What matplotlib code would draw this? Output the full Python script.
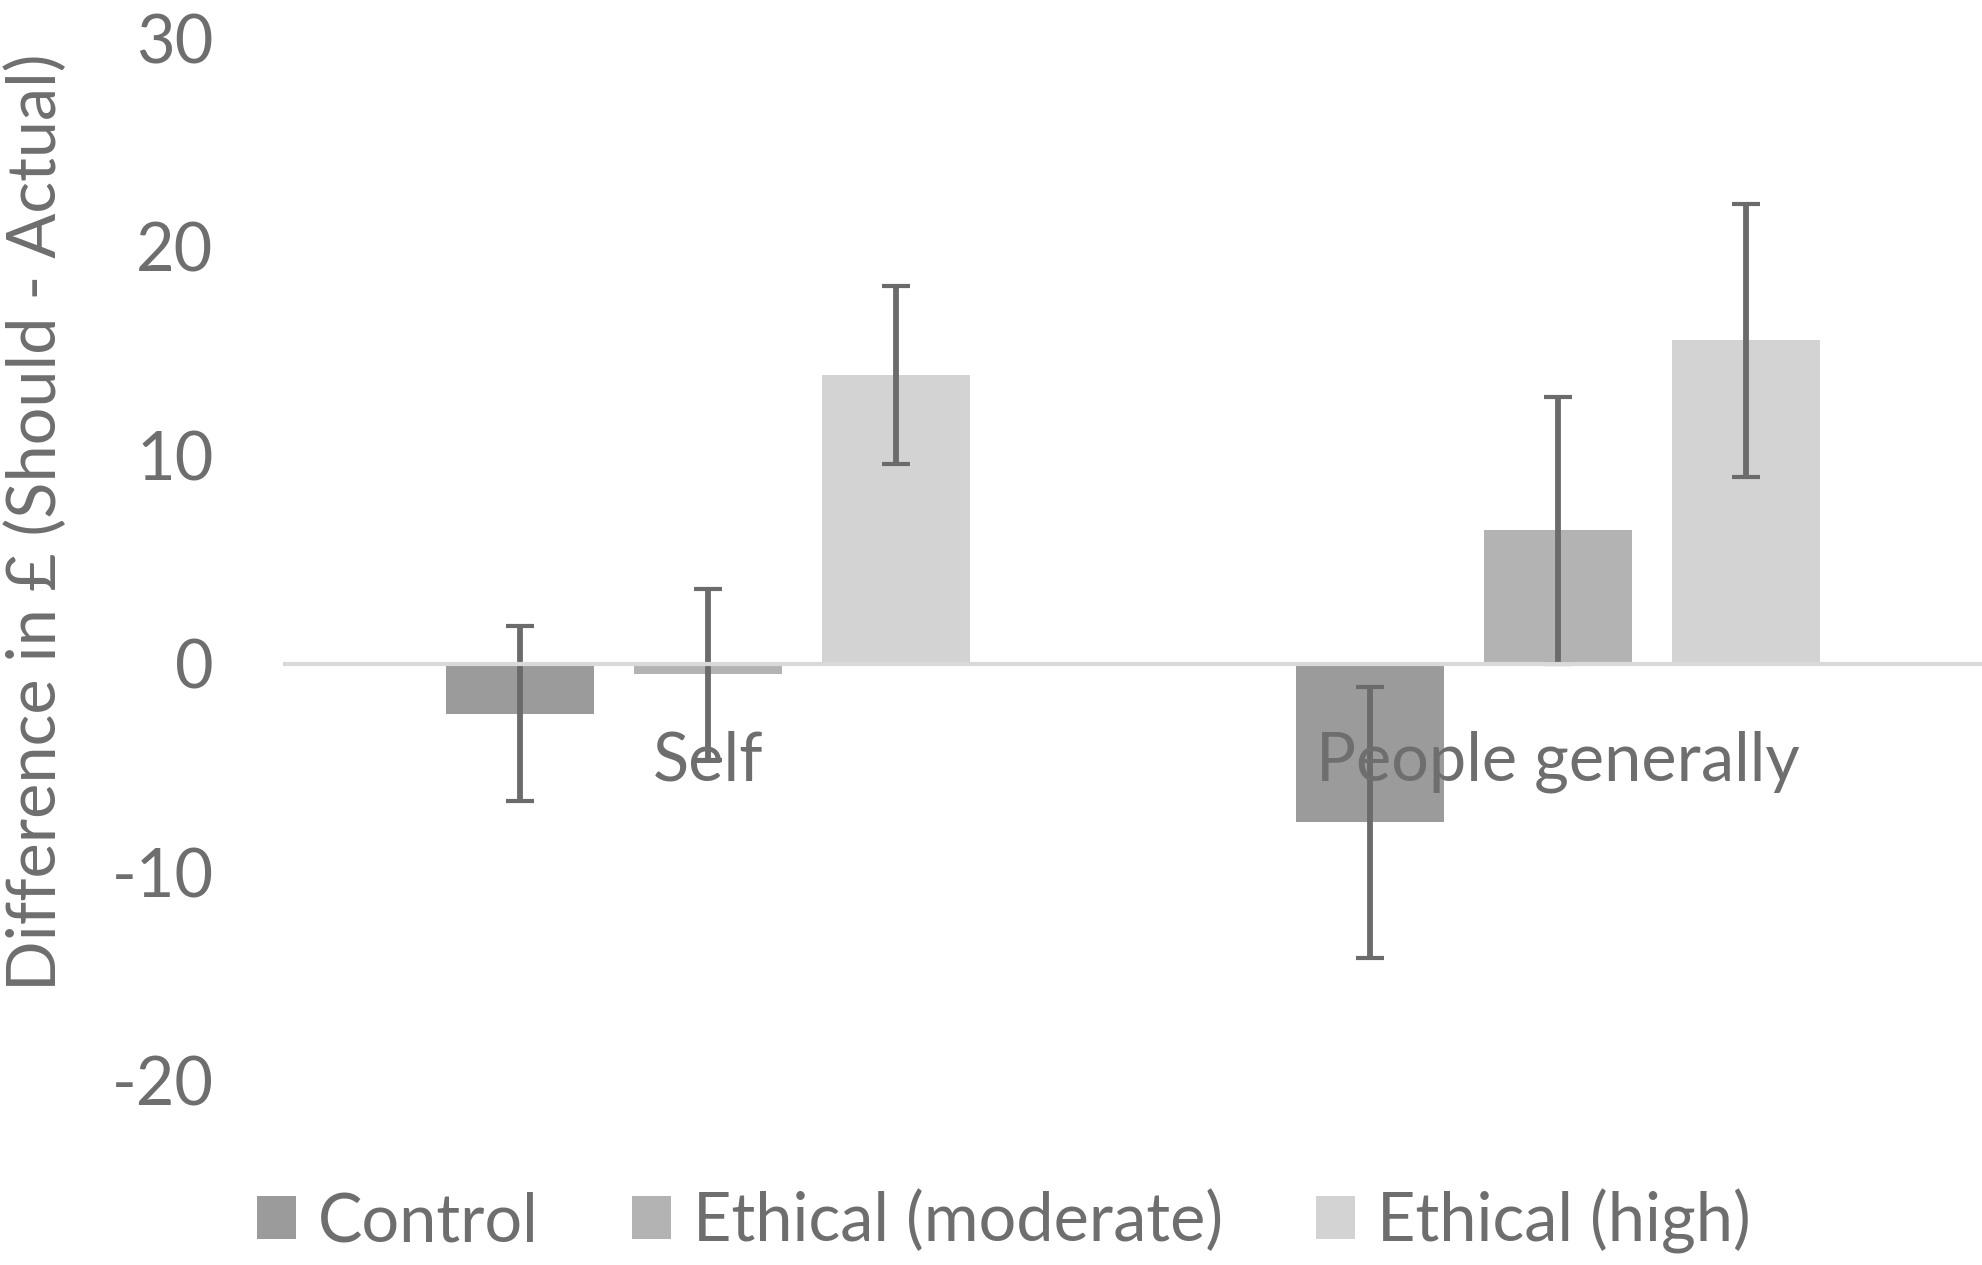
import matplotlib
matplotlib.use("Agg")
import matplotlib.pyplot as plt
import numpy as np
from matplotlib.patches import Patch

categories = ["Self", "People generally"]
series_names = ["Control", "Ethical (moderate)", "Ethical (high)"]
values = {
    "Control": [-2.4, -7.6],
    "Ethical (moderate)": [-0.5, 6.4],
    "Ethical (high)": [13.85, 15.5],
}
errors = {
    "Control": [4.2, 6.5],
    "Ethical (moderate)": [4.1, 6.4],
    "Ethical (high)": [4.25, 6.55],
}
yticks = [-20, -10, 0, 10, 20, 30]
colors = ["#9b9b9b", "#b3b3b3", "#d3d3d3"]
text_color = "#6e6e6e"

plt.rcParams["font.family"] = ["Lato", "DejaVu Sans"]
FS = 48

W, H = 1983, 1265
fig = plt.figure(figsize=(W / 100, H / 100), dpi=100)
ax = fig.add_axes([283 / W, 1 - 1081 / H, 1 - 283 / W, (1081 - 38) / H])

x = np.arange(len(categories))
width = 0.174
offset = 0.221
for i, name in enumerate(series_names):
    ax.bar(x + (i - 1) * offset, values[name], width, color=colors[i],
           yerr=errors[name], label=name, zorder=2,
           error_kw=dict(ecolor="#6b6b6b", elinewidth=4.2, capsize=10,
                         capthick=3.0, zorder=3))

ax.axhline(0, color="#d9d9d9", lw=3.0, zorder=4)

ax.set_xlim(-0.5, 1.5)
ax.set_ylim(-20, 30)
ax.set_yticks(yticks)
ax.set_yticklabels([str(t) for t in yticks])
ax.set_xticks([])
ax.tick_params(axis="y", length=0, pad=50, labelsize=FS, labelcolor=text_color)
for s in ax.spines.values():
    s.set_visible(False)

for i, c in enumerate(categories):
    ax.annotate(c, xy=(x[i], 0), xytext=(0, -84), textcoords="offset points",
                ha="center", va="baseline", fontsize=FS, color=text_color,
                zorder=5)

fig.text(37 / W, 1 - 522 / H, "Difference in £ (Should - Actual)", rotation=90,
         ha="center", va="center", fontsize=FS, color=text_color)

handles = [Patch(facecolor=colors[i], edgecolor="none", label=n)
           for i, n in enumerate(series_names)]
fig.legend(handles=handles, loc="center", bbox_to_anchor=(1004 / W, 1 - 1221 / H),
           ncol=3, frameon=False, fontsize=FS, labelcolor=text_color,
           handlelength=0.585, handleheight=0.62, handletextpad=0.33,
           columnspacing=1.4, borderpad=0, borderaxespad=0)

fig.savefig("out.png", dpi=100, facecolor="white")
